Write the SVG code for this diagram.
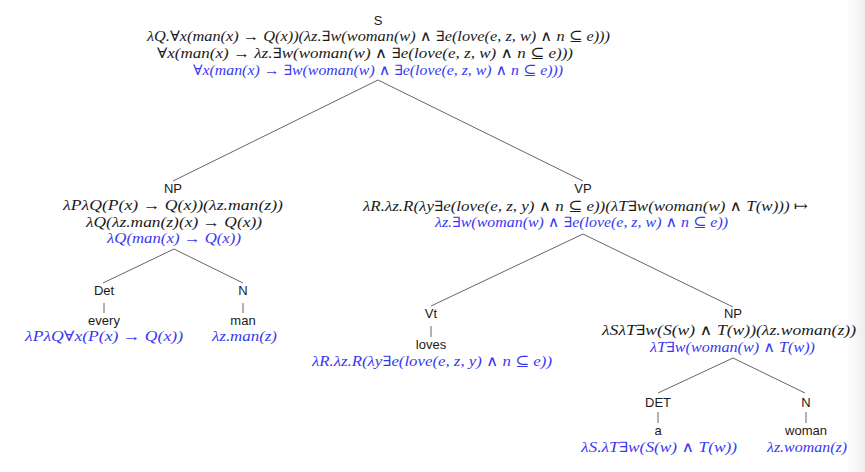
<svg xmlns="http://www.w3.org/2000/svg" width="865" height="472" viewBox="0 0 865 472">
<defs>
<linearGradient id="edge" x1="0" y1="0" x2="1" y2="0">
<stop offset="0" stop-color="#ffffff" stop-opacity="0"/>
<stop offset="1" stop-color="#ececec"/>
</linearGradient>
<style>
.lab{font-family:"Liberation Sans","DejaVu Sans",sans-serif;font-size:13px;fill:#1a1a1a;text-anchor:middle}
.m{font-family:"Liberation Serif","DejaVu Serif",serif;font-style:italic;font-size:14.5px;fill:#1a1a1a}
.b{fill:#3838f2}
.e{stroke:#555;stroke-width:0.9;fill:none}
</style>
</defs>
<rect width="865" height="472" fill="#fff"/>
<rect x="840" y="0" width="25" height="472" fill="url(#edge)"/>
<g id="connectors">
<path class="e" d="M378 80 L173 181 M378 80 L583 181"/>
<path class="e" d="M174 249 L103 283 M174 249 L243 283"/>
<path class="e" d="M104 303 L104 313 M243 303 L243 313"/>
<path class="e" d="M583 234 L431 306 M583 234 L733 307"/>
<path class="e" d="M431 326 L431 337"/>
<path class="e" d="M733 358 L658 393 M733 358 L805 393"/>
<path class="e" d="M658 412 L658 423 M806 412 L806 423"/>
</g>
<g id="S">
<text class="lab" x="378" y="25">S</text>
<text class="m" x="147" y="41" textLength="463" lengthAdjust="spacingAndGlyphs">λQ.∀x(man(x) → Q(x))(λz.∃w(woman(w) ∧ ∃e(love(e, z, w) ∧ n ⊆ e)))</text>
<text class="m" x="157" y="58" textLength="416" lengthAdjust="spacingAndGlyphs">∀x(man(x) → λz.∃w(woman(w) ∧ ∃e(love(e, z, w) ∧ n ⊆ e)))</text>
<text class="m b" x="193" y="75" textLength="370" lengthAdjust="spacingAndGlyphs">∀x(man(x) → ∃w(woman(w) ∧ ∃e(love(e, z, w) ∧ n ⊆ e)))</text>
</g>
<g id="NP1">
<text class="lab" x="173" y="193">NP</text>
<text class="m" x="63" y="210" textLength="220" lengthAdjust="spacingAndGlyphs">λPλQ(P(x) → Q(x))(λz.man(z))</text>
<text class="m" x="86" y="227" textLength="176" lengthAdjust="spacingAndGlyphs">λQ(λz.man(z)(x) → Q(x))</text>
<text class="m b" x="107" y="243" textLength="134" lengthAdjust="spacingAndGlyphs">λQ(man(x) → Q(x))</text>
</g>
<g id="Det1">
<text class="lab" x="104" y="295">Det</text>
<text class="lab" x="104" y="325">every</text>
<text class="m b" x="25" y="341" textLength="158" lengthAdjust="spacingAndGlyphs">λPλQ∀x(P(x) → Q(x))</text>
</g>
<g id="N1">
<text class="lab" x="243" y="295">N</text>
<text class="lab" x="243" y="325">man</text>
<text class="m b" x="212" y="341" textLength="65" lengthAdjust="spacingAndGlyphs">λz.man(z)</text>
</g>
<g id="VP">
<text class="lab" x="583" y="193">VP</text>
<text class="m" x="363" y="211" textLength="445" lengthAdjust="spacingAndGlyphs">λR.λz.R(λy∃e(love(e, z, y) ∧ n ⊆ e))(λT∃w(woman(w) ∧ T(w))) ↦</text>
<text class="m b" x="435" y="227" textLength="293" lengthAdjust="spacingAndGlyphs">λz.∃w(woman(w) ∧ ∃e(love(e, z, w) ∧ n ⊆ e))</text>
</g>
<g id="Vt">
<text class="lab" x="431" y="318">Vt</text>
<text class="lab" x="431" y="349">loves</text>
<text class="m b" x="312" y="366" textLength="240" lengthAdjust="spacingAndGlyphs">λR.λz.R(λy∃e(love(e, z, y) ∧ n ⊆ e))</text>
</g>
<g id="NP2">
<text class="lab" x="733" y="318">NP</text>
<text class="m" x="602" y="335" textLength="254" lengthAdjust="spacingAndGlyphs">λSλT∃w(S(w) ∧ T(w))(λz.woman(z))</text>
<text class="m b" x="650" y="352" textLength="165" lengthAdjust="spacingAndGlyphs">λT∃w(woman(w) ∧ T(w))</text>
</g>
<g id="DET2">
<text class="lab" x="658" y="407">DET</text>
<text class="lab" x="658" y="435">a</text>
<text class="m b" x="581" y="452" textLength="156" lengthAdjust="spacingAndGlyphs">λS.λT∃w(S(w) ∧ T(w))</text>
</g>
<g id="N2">
<text class="lab" x="806" y="407">N</text>
<text class="lab" x="806" y="435">woman</text>
<text class="m b" x="767" y="452" textLength="80" lengthAdjust="spacingAndGlyphs">λz.woman(z)</text>
</g>
</svg>
